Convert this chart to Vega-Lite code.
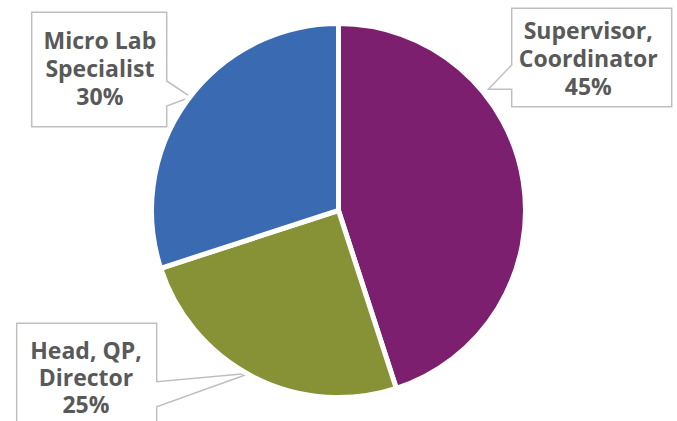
{
  "$schema": "https://vega.github.io/schema/vega-lite/v6.json",
  "width": 677,
  "height": 421,
  "autosize": {"type": "none"},
  "padding": 0,
  "background": "white",
  "view": {"stroke": null},
  "data": {
    "values": [
      {"role": "Supervisor, Coordinator", "label": "Supervisor,\nCoordinator\n45%", "share": 45},
      {"role": "Head, QP, Director", "label": "Head, QP,\nDirector\n25%", "share": 25},
      {"role": "Micro Lab Specialist", "label": "Micro Lab\nSpecialist\n30%", "share": 30}
    ]
  },
  "transform": [{"window": [{"op": "row_number", "as": "idx"}]}],
  "layer": [
    {
      "mark": {"type": "point", "filled": true, "fill": "white", "stroke": "#bfbfbf", "strokeWidth": 1.5, "size": 4, "opacity": 1},
      "encoding": {
        "shape": {
          "field": "role",
          "type": "nominal",
          "legend": null,
          "scale": {
            "domain": ["Supervisor, Coordinator", "Head, QP, Director", "Micro Lab Specialist"],
            "range": [
              "M 173.2 -202.2 L 333.2 -202.2 L 333.2 -103.8 L 173.2 -103.8 L 173.2 -121.2 L 149.8 -121.2 L 173.2 -145.5 Z",
              "M -321.8 215 L -321.8 112.8 L -181.8 112.8 L -181.8 171.2 L -88.5 162.8 L -181.8 196.2 L -181.8 215",
              "M -306.8 -198.2 L -171.8 -198.2 L -171.8 -129.5 L -147.5 -113.5 L -171.8 -104.5 L -171.8 -83.8 L -306.8 -83.8 Z"
            ]
          }
        }
      }
    },
    {
      "mark": {"type": "arc", "radius": 187, "stroke": "white", "strokeWidth": 5},
      "encoding": {
        "theta": {"field": "share", "type": "quantitative", "stack": true},
        "order": {"field": "idx", "type": "quantitative"},
        "color": {
          "field": "role",
          "type": "nominal",
          "legend": null,
          "scale": {
            "domain": ["Supervisor, Coordinator", "Head, QP, Director", "Micro Lab Specialist"],
            "range": ["#7b1f6e", "#879136", "#3a6ab2"]
          }
        }
      }
    },
    {
      "mark": {"type": "text", "radius": 180, "dx": 72, "dy": -150, "font": "Open Sans", "fontWeight": "bold", "fontSize": 23, "lineHeight": 28, "lineBreak": "\n", "color": "#595959", "align": "center", "baseline": "middle"},
      "encoding": {
        "theta": {"field": "share", "type": "quantitative", "stack": true},
        "order": {"field": "idx", "type": "quantitative"},
        "detail": {"field": "role", "type": "nominal"},
        "text": {"condition": {"test": "datum.role === 'Supervisor, Coordinator'", "field": "label"}, "value": ""}
      }
    },
    {
      "mark": {"type": "text", "radius": 180, "dx": -170.8, "dy": -19, "font": "Open Sans", "fontWeight": "bold", "fontSize": 23, "lineHeight": 27, "lineBreak": "\n", "color": "#595959", "align": "center", "baseline": "middle"},
      "encoding": {
        "theta": {"field": "share", "type": "quantitative", "stack": true},
        "order": {"field": "idx", "type": "quantitative"},
        "detail": {"field": "role", "type": "nominal"},
        "text": {"condition": {"test": "datum.role === 'Head, QP, Director'", "field": "label"}, "value": ""}
      }
    },
    {
      "mark": {"type": "text", "radius": 180, "dx": -93, "dy": -63, "font": "Open Sans", "fontWeight": "bold", "fontSize": 23, "lineHeight": 28, "lineBreak": "\n", "color": "#595959", "align": "center", "baseline": "middle"},
      "encoding": {
        "theta": {"field": "share", "type": "quantitative", "stack": true},
        "order": {"field": "idx", "type": "quantitative"},
        "detail": {"field": "role", "type": "nominal"},
        "text": {"condition": {"test": "datum.role === 'Micro Lab Specialist'", "field": "label"}, "value": ""}
      }
    }
  ]
}
